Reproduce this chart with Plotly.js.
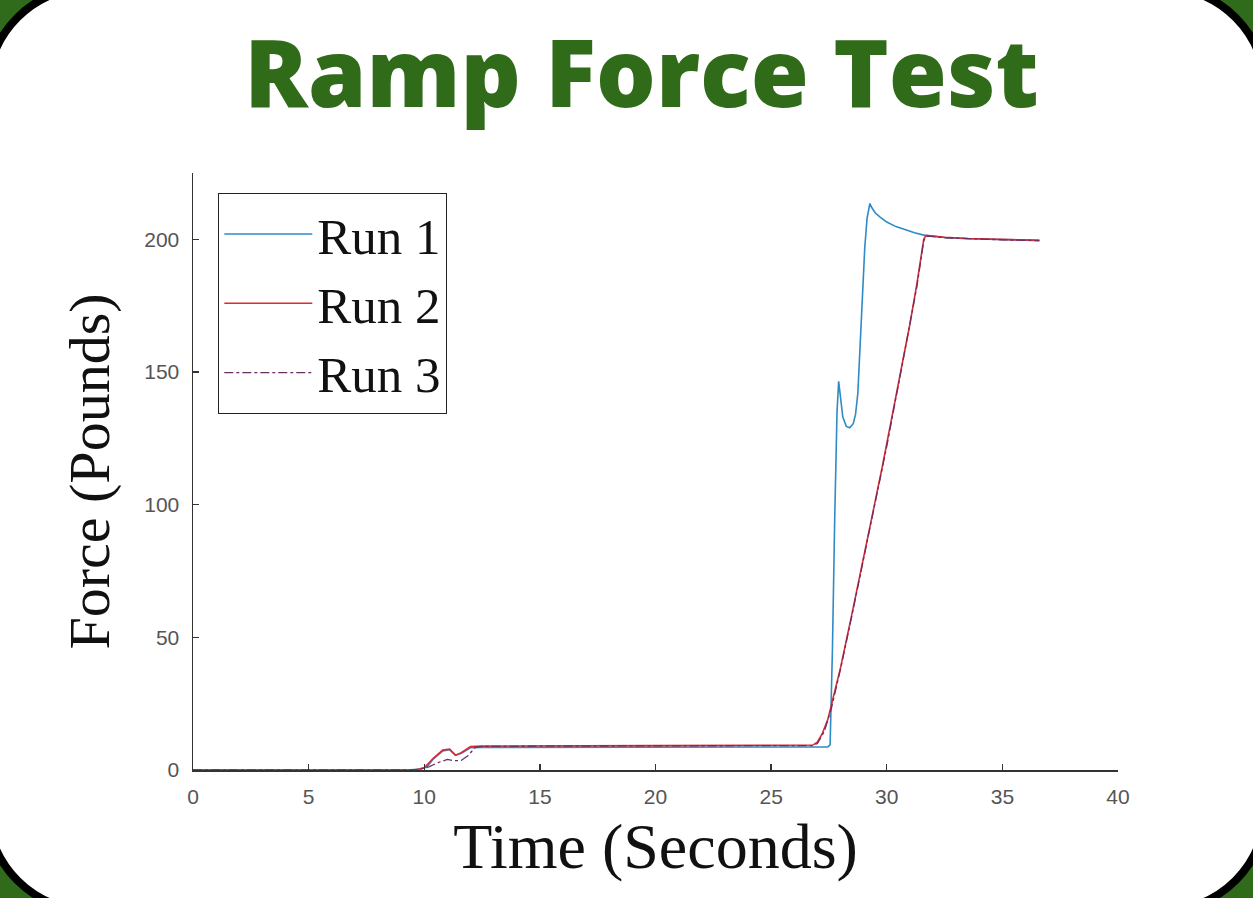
<!DOCTYPE html>
<html>
<head>
<meta charset="utf-8">
<script src="https://cdn.plot.ly/plotly-3.0.1.min.js"></script>
<style>
  html, body { margin:0; padding:0; width:1253px; height:898px; overflow:hidden; background:#2f6b1a; }
  #card { position:absolute; left:-17px; top:-17px; width:1287px; height:932px; box-sizing:border-box;
          border:8px solid #000; border-radius:108px; background:#fff; }
  #chart { position:absolute; left:0; top:0; width:1253px; height:898px; }
</style>
</head>
<body>
<div id="card"></div>
<div id="chart"></div>
<script>
// ---- data ----
const run1Time  = [0, 9.3, 9.8, 10.1, 10.4, 10.8, 11.1, 11.35, 11.6, 12.0, 12.5, 15, 20, 25, 27.45, 27.55, 27.65, 27.75, 27.85, 27.92, 28.0, 28.1, 28.25, 28.4, 28.55, 28.65, 28.75, 28.85, 28.95, 29.05, 29.15, 29.27, 29.35, 29.5, 29.7, 30.0, 30.4, 30.8, 31.2, 31.65, 32.5, 33.5, 35.0, 36.6];
const run1Force = [0, 0, 0.4, 1.0, 4.2, 7.2, 7.6, 5.5, 6.3, 8.4, 8.5, 8.5, 8.6, 8.7, 8.7, 9.5, 45, 95, 135, 146.5, 140, 133, 129.5, 129, 130.5, 134, 142, 160, 180, 197, 208, 213.5, 212, 210, 208.5, 206.5, 204.8, 203.5, 202.5, 201.5, 200.7, 200.2, 199.8, 199.6];

const run2Time  = [0, 9.6, 10.0, 10.4, 10.8, 11.1, 11.35, 11.6, 12.0, 12.5, 20, 26.8, 27.0, 27.2, 27.45, 27.7, 28.0, 28.5, 29.0, 29.5, 29.8, 30.2, 30.6, 31.0, 31.3, 31.6, 31.7, 32.5, 33.5, 35.0, 36.6];
const run2Force = [0, 0, 0.8, 4.5, 7.5, 7.9, 5.6, 6.5, 8.8, 9.0, 9.2, 9.4, 10.5, 13.5, 19, 28, 38.5, 59, 80, 101, 114, 132, 150, 168, 183, 200, 201.5, 200.8, 200.3, 199.9, 199.6];

const run3Time  = [0, 9.7, 10.2, 10.6, 11.0, 11.3, 11.6, 11.9, 12.2, 12.5, 20, 26.8, 27.0, 27.3, 27.6, 28.0, 28.5, 29.0, 29.5, 30.0, 30.5, 31.0, 31.3, 31.6, 31.75, 32.5, 33.5, 35.0, 36.6];
const run3Force = [0, 0, 1.2, 2.8, 4.0, 3.5, 3.6, 5.5, 8.5, 8.9, 9.1, 9.2, 10.0, 14.5, 23, 38, 58.5, 79.5, 100.5, 122, 145, 167.5, 182, 199.5, 201.2, 200.6, 200.2, 199.8, 199.5];

const seriesNames = ["Run 1", "Run 2", "Run 3"];
const xTicks = [0, 5, 10, 15, 20, 25, 30, 35, 40];
const yTicks = [0, 50, 100, 150, 200];

const traces = [
  {x: run1Time, y: run1Force, name: seriesNames[0], mode: "lines", line: {color: "#2e8bc6", width: 1.6}},
  {x: run2Time, y: run2Force, name: seriesNames[1], mode: "lines", line: {color: "#e0282e", width: 1.6}},
  {x: run3Time, y: run3Force, name: seriesNames[2], mode: "lines", line: {color: "#6a2f63", width: 1.3, dash: "dashdot"}}
];

const axisCommon = {
  showgrid: false, zeroline: false, showline: true, linecolor: "#333", linewidth: 1.5,
  ticks: "inside", ticklen: 6, tickwidth: 1.3, tickcolor: "#333",
  tickfont: {family: "Liberation Sans, Arial, sans-serif", size: 21, color: "#555"}
};

const layout = {
  width: 1253, height: 898,
  paper_bgcolor: "rgba(0,0,0,0)", plot_bgcolor: "rgba(0,0,0,0)",
  margin: {l: 193, r: 135, t: 173, b: 128},
  title: {
    text: "Ramp Force Test", x: 0.512, xanchor: "center", y: 0.918, yanchor: "middle", yref: "container",
    font: {family: "Open Sans, Lato, sans-serif", size: 94, color: "#2f6b18", weight: 800}
  },
  xaxis: Object.assign({}, axisCommon, {
    range: [0, 40], tickvals: xTicks, ticktext: xTicks.map(String), ticklabelstandoff: 7,
    title: {text: "Time (Seconds)", standoff: 16,
            font: {family: "Liberation Serif, Times New Roman, serif", size: 64, color: "#111"}}
  }),
  yaxis: Object.assign({}, axisCommon, {
    range: [0, 225], tickvals: yTicks, ticktext: yTicks.map(String), ticklabelstandoff: 8,
    title: {text: "Force (Pounds)", standoff: 16,
            font: {family: "Liberation Serif, Times New Roman, serif", size: 58, color: "#111"}}
  }),
  showlegend: true,
  legend: {
    x: (218 - 193) / 925, y: 1 - (193 - 173) / 597, xanchor: "left", yanchor: "top",
    bgcolor: "#fff", bordercolor: "#222", borderwidth: 1.3,
    font: {family: "Liberation Serif, Times New Roman, serif", size: 51, color: "#111"},
    itemwidth: 88
  }
};

Plotly.newPlot("chart", traces, layout, {displayModeBar: false, staticPlot: true});
</script>
</body>
</html>
